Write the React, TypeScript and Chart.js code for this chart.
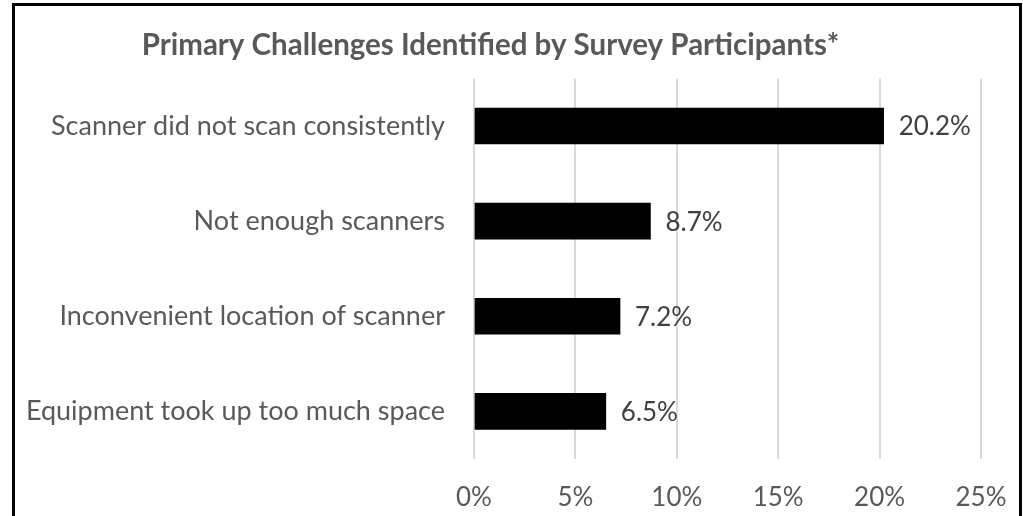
import React, { useEffect, useRef } from "react";
import { Chart, registerables } from "chart.js";

Chart.register(...registerables);

const TITLE = "Primary Challenges Identified by Survey Participants*";
const categories = [
  "Scanner did not scan consistently",
  "Not enough scanners",
  "Inconvenient location of scanner",
  "Equipment took up too much space",
];
const values = [20.2, 8.7, 7.2, 6.5];
const xMin = 0;
const xMax = 25;
const xStep = 5;

const FONT = "Lato, 'Liberation Sans', sans-serif";

const valueLabelPlugin = {
  id: "valueLabels",
  afterDatasetsDraw(chart: any) {
    const ctx = chart.ctx;
    const meta = chart.getDatasetMeta(0);
    ctx.save();
    ctx.font = `26px ${FONT}`;
    ctx.fillStyle = "#404040";
    ctx.textAlign = "left";
    ctx.textBaseline = "middle";
    meta.data.forEach((bar: any, i: number) => {
      ctx.fillText(values[i].toFixed(1) + "%", bar.x + 15, bar.y + 1);
    });
    ctx.restore();
  },
};

export default function App() {
  const ref = useRef<HTMLCanvasElement | null>(null);

  useEffect(() => {
    if (!ref.current) return;
    const chart = new Chart(ref.current, {
      type: "bar",
      data: {
        labels: categories,
        datasets: [
          {
            data: values,
            backgroundColor: "#000000",
            borderWidth: 0,
            barThickness: 36,
          },
        ],
      },
      options: {
        indexAxis: "y",
        animation: false,
        responsive: false,
        layout: { padding: { left: 0, right: 42, top: 0, bottom: 0 } },
        plugins: {
          legend: { display: false },
          tooltip: { enabled: false },
          title: {
            display: true,
            text: TITLE,
            color: "#595959",
            font: { family: FONT, size: 29.5, weight: "bold" },
            padding: { top: 28, bottom: 15 },
          },
        },
        scales: {
          x: {
            min: xMin,
            max: xMax,
            ticks: {
              stepSize: xStep,
              color: "#595959",
              font: { family: FONT, size: 26 },
              padding: 23,
              callback: (v: any) => v + "%",
            },
            grid: { color: "#d9d9d9", lineWidth: 2, drawTicks: false },
            border: { display: false },
            afterFit: (scale: any) => {
              scale.height = 57;
              scale.paddingLeft = 0;
              scale.paddingRight = 0;
            },
          },
          y: {
            ticks: {
              color: "#595959",
              font: { family: FONT, size: 27 },
              padding: 29,
            },
            grid: { display: false, drawTicks: false },
            border: { display: false },
            afterFit: (scale: any) => {
              scale.width = 474;
            },
          },
        },
      },
      plugins: [valueLabelPlugin],
    });
    return () => chart.destroy();
  }, []);

  return (
    <div style={{ position: "absolute", left: 0, top: 0, width: 1023, height: 516, background: "#fff", overflow: "hidden" }}>
      <canvas ref={ref} width={1023} height={516} style={{ position: "absolute", left: 0, top: 0 }} />
      <div
        style={{
          position: "absolute",
          left: 12,
          top: 3,
          width: 1010,
          height: 513,
          boxSizing: "border-box",
          borderLeft: "3px solid #000",
          borderTop: "3px solid #000",
          borderRight: "3px solid #000",
          pointerEvents: "none",
        }}
      />
    </div>
  );
}
